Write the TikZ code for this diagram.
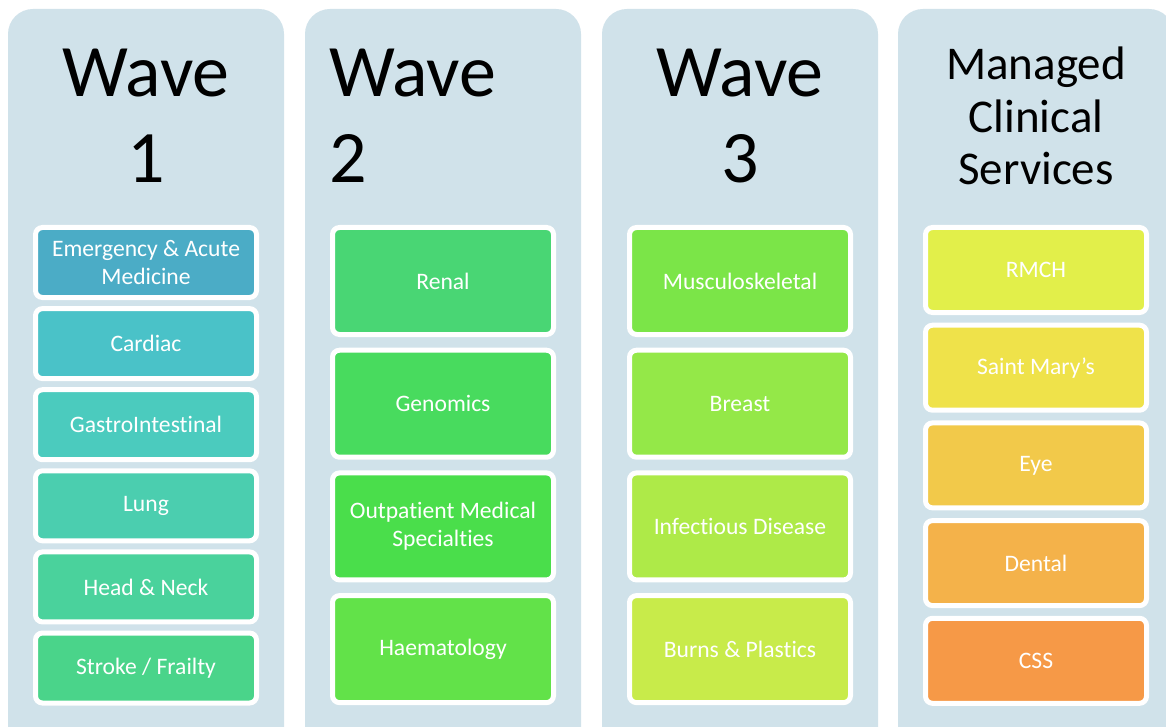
\documentclass[tikz,border=0pt]{standalone}
\usepackage{fontspec}
\setmainfont{Carlito}[Ligatures=NoCommon]
\definecolor{panel}{HTML}{D0E2EA}
\definecolor{cA}{HTML}{4BACC6}
\definecolor{cB}{HTML}{4AC2C8}
\definecolor{cC}{HTML}{4BCBBE}
\definecolor{cD}{HTML}{4BCEAF}
\definecolor{cE}{HTML}{4AD29C}
\definecolor{cF}{HTML}{4AD48A}
\definecolor{cG}{HTML}{49D674}
\definecolor{cH}{HTML}{48DB5E}
\definecolor{cI}{HTML}{4ADE4B}
\definecolor{cJ}{HTML}{62E249}
\definecolor{cK}{HTML}{7BE548}
\definecolor{cL}{HTML}{94E848}
\definecolor{cM}{HTML}{AEEA48}
\definecolor{cN}{HTML}{C8EB4A}
\definecolor{cO}{HTML}{E2EF4A}
\definecolor{cP}{HTML}{EFE24A}
\definecolor{cQ}{HTML}{F2C94A}
\definecolor{cR}{HTML}{F4B24A}
\definecolor{cS}{HTML}{F69947}
\begin{document}
\begin{tikzpicture}[x=1pt,y=-1pt,
  panelbox/.style={fill=panel,rounded corners=25pt},
  itembox/.style={draw=white,line width=5pt,rounded corners=7pt,inner sep=0pt,
    minimum width=221pt,text=white,align=center,
    font=\fontsize{23.6}{27.5}\selectfont},
  small/.style={itembox,minimum height=70pt},
  tall/.style={itembox,minimum height=107pt},
  mid/.style={itembox,minimum height=85pt},
  wavetitle/.style={inner sep=0pt,anchor=base,align=center,font=\fontsize{74}{86}\selectfont},
  mcstitle/.style={inner sep=0pt,anchor=base,align=center,font=\fontsize{47}{52.5}\selectfont}]
\useasboundingbox (0,0) rectangle (1166,727);
\clip (0,0) rectangle (1166,727);
\fill[white] (0,0) rectangle (1166,727);
% panels
\path[panelbox] (8,9) rectangle (284,780);
\path[panelbox] (305,9) rectangle (581,780);
\path[panelbox] (602,9) rectangle (878,780);
\path[panelbox] (898,9) rectangle (1174,780);
% titles (base anchor = last line)
\node[wavetitle] (t1) at (146,183) {Wave\\1};
\node[wavetitle,align=left,anchor=base west] (t2) at (329,183) {Wave\\2};
\node[wavetitle] (t3) at (740,183) {Wave\\3};
\node[mcstitle] (t4) at (1036,185) {Managed\\Clinical\\Services};
% column 1
\node[small,fill=cA] (a1) at (146,262.5) {Emergency \& Acute\\Medicine};
\node[small,fill=cB] (a2) at (146,343.6) {Cardiac};
\node[small,fill=cC] (a3) at (146,424.7) {GastroIntestinal};
\node[small,fill=cD] (a4) at (146,505.8) {Lung};
\node[small,fill=cE] (a5) at (146,586.9) {Head \& Neck};
\node[small,fill=cF] (a6) at (146,668) {Stroke / Frailty};
% column 2
\node[tall,fill=cG] (b1) at (443,281) {Renal};
\node[tall,fill=cH] (b2) at (443,403.7) {Genomics};
\node[tall,fill=cI] (b3) at (443,526.4) {Outpatient Medical\\Specialties};
\node[tall,fill=cJ] (b4) at (443,649.1) {Haematology};
% column 3
\node[tall,fill=cK] (c1) at (740,281) {Musculoskeletal};
\node[tall,fill=cL] (c2) at (740,403.7) {Breast};
\node[tall,fill=cM] (c3) at (740,526.4) {Infectious Disease};
\node[tall,fill=cN] (c4) at (740,649.1) {Burns \& Plastics};
% column 4
\node[mid,fill=cO] (d1) at (1036,270) {RMCH};
\node[mid,fill=cP] (d2) at (1036,367.7) {Saint Mary’s};
\node[mid,fill=cQ] (d3) at (1036,465.4) {Eye};
\node[mid,fill=cR] (d4) at (1036,563.1) {Dental};
\node[mid,fill=cS] (d5) at (1036,660.8) {CSS};
\end{tikzpicture}
\end{document}
